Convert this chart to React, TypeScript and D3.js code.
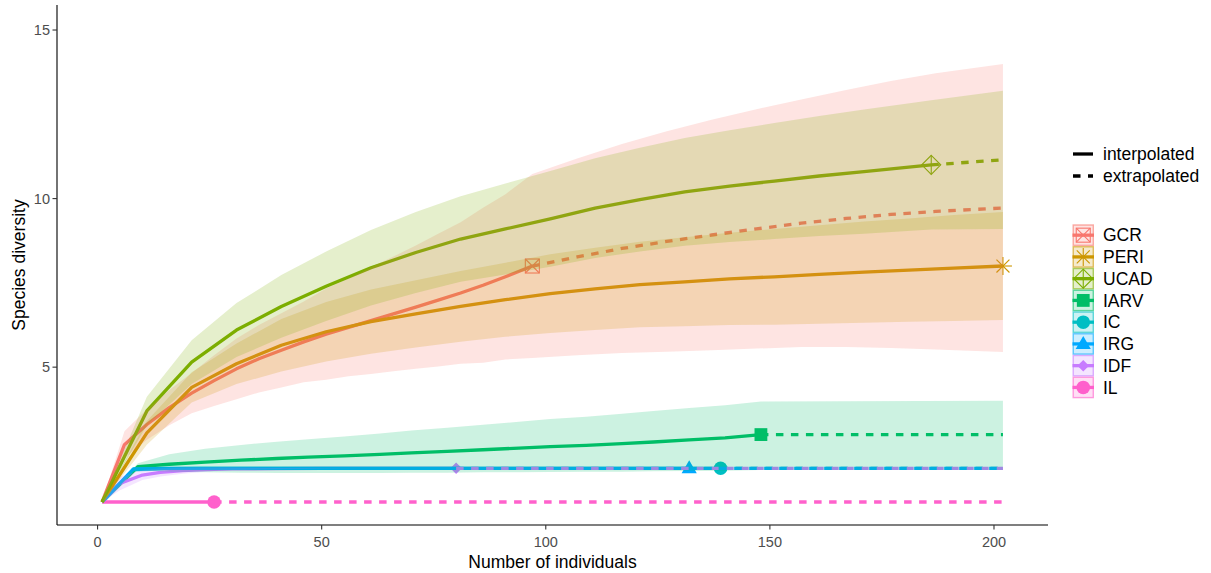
import React from "react";
import * as d3 from "d3";

const W = 1211;
const H = 573;

const groups = ["GCR", "PERI", "UCAD", "IARV", "IC", "IRG", "IDF", "IL"];
const colors = ["#F8766D", "#CD9600", "#7CAE00", "#00BE67", "#00BFC4", "#00A9FF", "#C77CFF", "#FF61CC"];
const shapes = ["squareCross", "asterisk", "diamondPlus", "square", "circle", "triangle", "diamond", "circle"];
const observedN = [97, 202, 186, 148, 139, 132, 80, 26];

// GCR
const gcrX = [1, 6, 11, 16, 21, 26, 31, 36, 41, 46, 51, 56, 61, 66, 71, 76, 81, 86, 91, 97, 107, 117, 127, 137, 147, 157, 167, 177, 187, 202];
const gcrEst = [1, 2.7, 3.3, 3.8, 4.23, 4.6, 4.95, 5.25, 5.5, 5.75, 5.98, 6.18, 6.38, 6.58, 6.78, 6.99, 7.2, 7.43, 7.68, 8.0, 8.27, 8.52, 8.73, 8.92, 9.1, 9.27, 9.41, 9.53, 9.62, 9.72];
const gcrLo = [1, 2.3, 2.85, 3.28, 3.63, 3.85, 4.05, 4.25, 4.4, 4.55, 4.63, 4.73, 4.8, 4.88, 4.95, 5.02, 5.1, 5.13, 5.23, 5.27, 5.35, 5.42, 5.46, 5.5, 5.55, 5.6, 5.6, 5.57, 5.52, 5.45];
const gcrHi = [1, 3.1, 3.75, 4.32, 4.83, 5.35, 5.85, 6.25, 6.6, 6.95, 7.33, 7.63, 7.96, 8.28, 8.61, 8.96, 9.3, 9.73, 10.13, 10.73, 11.19, 11.62, 12.0, 12.34, 12.65, 12.94, 13.22, 13.49, 13.72, 13.99];

// PERI
const periX = [1, 11, 21, 31, 41, 51, 61, 71, 81, 91, 101, 111, 121, 131, 141, 151, 161, 171, 181, 191, 202];
const periEst = [1, 3.05, 4.4, 5.1, 5.65, 6.05, 6.35, 6.58, 6.8, 7.0, 7.18, 7.32, 7.45, 7.53, 7.62, 7.68, 7.75, 7.82, 7.88, 7.94, 8.0];
const periLo = [1, 2.7, 3.95, 4.5, 4.87, 5.17, 5.4, 5.58, 5.75, 5.9, 6.01, 6.1, 6.18, 6.21, 6.25, 6.26, 6.29, 6.32, 6.35, 6.37, 6.4];
const periHi = [1, 3.4, 4.85, 5.7, 6.43, 6.93, 7.3, 7.58, 7.85, 8.1, 8.35, 8.54, 8.72, 8.85, 8.99, 9.1, 9.21, 9.32, 9.41, 9.51, 9.6];

// UCAD
const ucadX = [1, 11, 21, 31, 41, 51, 61, 71, 81, 91, 101, 111, 121, 131, 141, 151, 161, 171, 186, 202];
const ucadEst = [1, 3.7, 5.15, 6.1, 6.8, 7.4, 7.95, 8.4, 8.8, 9.1, 9.4, 9.72, 9.97, 10.2, 10.37, 10.52, 10.67, 10.8, 11.0, 11.15];
const ucadLo = [1, 3.28, 4.5, 5.3, 5.87, 6.37, 6.83, 7.2, 7.53, 7.75, 7.98, 8.24, 8.43, 8.6, 8.71, 8.8, 8.89, 8.96, 9.08, 9.1];
const ucadHi = [1, 4.12, 5.8, 6.9, 7.73, 8.43, 9.07, 9.6, 10.07, 10.45, 10.82, 11.2, 11.51, 11.8, 12.03, 12.24, 12.45, 12.64, 12.92, 13.2];

// IARV
const iarvX = [1, 9, 16, 24, 32, 40, 47, 55, 63, 70, 78, 86, 94, 101, 109, 117, 124, 132, 140, 148, 202];
const iarvEst = [1, 2.05, 2.12, 2.18, 2.24, 2.29, 2.33, 2.37, 2.41, 2.46, 2.5, 2.55, 2.6, 2.64, 2.68, 2.73, 2.78, 2.84, 2.9, 3.0, 3.0];
const iarvLo = [1, 1.95, 1.9, 1.88, 1.87, 1.86, 1.86, 1.86, 1.86, 1.87, 1.87, 1.88, 1.88, 1.89, 1.9, 1.9, 1.91, 1.92, 1.93, 1.95, 1.95];
const iarvHi = [1, 2.15, 2.42, 2.58, 2.69, 2.79, 2.86, 2.94, 3.03, 3.12, 3.2, 3.29, 3.38, 3.46, 3.53, 3.62, 3.7, 3.79, 3.87, 3.98, 4.0];

// IC
const icX = [1, 8, 15, 23, 30, 60, 100, 139, 202];
const icEst = [1, 1.96, 1.99, 2.0, 2.0, 2.0, 2.0, 2.0, 2.0];
const icLo = [1, 1.88, 1.95, 1.98, 2.0, 2.0, 2.0, 2.0, 2.0];
const icHi = [1, 2.04, 2.03, 2.02, 2.0, 2.0, 2.0, 2.0, 2.0];

// IRG
const irgX = [1, 8, 15, 22, 30, 60, 100, 132, 202];
const irgEst = [1, 1.98, 2.0, 2.0, 2.0, 2.0, 2.0, 2.0, 2.0];
const irgLo = [1, 1.92, 1.97, 1.99, 2.0, 2.0, 2.0, 2.0, 2.0];
const irgHi = [1, 2.04, 2.03, 2.01, 2.0, 2.0, 2.0, 2.0, 2.0];

// IDF
const idfX = [1, 5, 10, 14, 19, 24, 30, 40, 50, 60, 80, 202];
const idfEst = [1, 1.55, 1.8, 1.88, 1.93, 1.96, 1.98, 1.99, 2.0, 2.0, 2.0, 2.0];
const idfLo = [1, 1.35, 1.65, 1.76, 1.84, 1.9, 1.94, 1.97, 1.99, 2.0, 2.0, 2.0];
const idfHi = [1, 1.75, 1.95, 2.0, 2.02, 2.02, 2.02, 2.01, 2.0, 2.0, 2.0, 2.0];

// IL
const ilX = [1, 26, 202];
const ilEst = [1, 1, 1];
const ilLo = [1, 1, 1];
const ilHi = [1, 1, 1];

const xTicks = [0, 50, 100, 150, 200];
const yTicks = [5, 10, 15];
const lineTypeLabels = ["interpolated", "extrapolated"];

const seriesX = [gcrX, periX, ucadX, iarvX, icX, irgX, idfX, ilX];
const seriesEst = [gcrEst, periEst, ucadEst, iarvEst, icEst, irgEst, idfEst, ilEst];
const seriesLo = [gcrLo, periLo, ucadLo, iarvLo, icLo, irgLo, idfLo, ilLo];
const seriesHi = [gcrHi, periHi, ucadHi, iarvHi, icHi, irgHi, idfHi, ilHi];

const FONT = "'Liberation Sans', Arial, sans-serif";
const LW = 3.3;
const DASH = "7.5 7.5";

function Marker({ shape, cx, cy, color }: { shape: string; cx: number; cy: number; color: string }) {
  switch (shape) {
    case "circle":
      return <circle cx={cx} cy={cy} r={6.8} fill={color} />;
    case "square":
      return <rect x={cx - 6.4} y={cy - 6.4} width={12.8} height={12.8} fill={color} />;
    case "triangle":
      return <path d={`M${cx},${cy - 8}L${cx - 7.6},${cy + 5}L${cx + 7.6},${cy + 5}Z`} fill={color} />;
    case "diamond":
      return <path d={`M${cx},${cy - 5.8}L${cx + 5.8},${cy}L${cx},${cy + 5.8}L${cx - 5.8},${cy}Z`} fill={color} />;
    case "squareCross": {
      const s = 7;
      return (
        <g stroke={color} strokeWidth={1.1} fill="none">
          <rect x={cx - s} y={cy - s} width={2 * s} height={2 * s} />
          <line x1={cx - s} y1={cy - s} x2={cx + s} y2={cy + s} />
          <line x1={cx - s} y1={cy + s} x2={cx + s} y2={cy - s} />
        </g>
      );
    }
    case "asterisk": {
      const r = 9;
      const d = r * 0.72;
      return (
        <g stroke={color} strokeWidth={1.1} fill="none">
          <line x1={cx} y1={cy - r} x2={cx} y2={cy + r} />
          <line x1={cx - r} y1={cy} x2={cx + r} y2={cy} />
          <line x1={cx - d} y1={cy - d} x2={cx + d} y2={cy + d} />
          <line x1={cx - d} y1={cy + d} x2={cx + d} y2={cy - d} />
        </g>
      );
    }
    case "diamondPlus": {
      const r = 9.5;
      return (
        <g stroke={color} strokeWidth={1.1} fill="none">
          <path d={`M${cx},${cy - r}L${cx + r},${cy}L${cx},${cy + r}L${cx - r},${cy}Z`} />
          <line x1={cx} y1={cy - r} x2={cx} y2={cy + r} />
          <line x1={cx - r} y1={cy} x2={cx + r} y2={cy} />
        </g>
      );
    }
    default:
      return null;
  }
}

export default function App() {
  const x = d3.scaleLinear().domain([-9.05, 212.05]).range([57, 1048]);
  const y = d3.scaleLinear().domain([0.318, 15.742]).range([525, 5]);

  const line = d3
    .line<[number, number]>()
    .x((d) => x(d[0]))
    .y((d) => y(d[1]));
  const area = d3
    .area<[number, number, number]>()
    .x((d) => x(d[0]))
    .y0((d) => y(d[1]))
    .y1((d) => y(d[2]));

  const series = groups.map((g, i) => {
    const xs = seriesX[i];
    const n = observedN[i];
    const pts: [number, number][] = xs.map((v, k) => [v, seriesEst[i][k]]);
    const interp = pts.filter((p) => p[0] <= n);
    const extrap = pts.filter((p) => p[0] >= n);
    const band: [number, number, number][] = xs.map((v, k) => [v, seriesLo[i][k], seriesHi[i][k]]);
    const obsIdx = xs.indexOf(n);
    return { g, i, interp, extrap, band, obs: [n, seriesEst[i][obsIdx]] as [number, number] };
  });

  // plotting order follows alphabetical order of the site names
  const ordered = [...series].sort((a, b) => d3.ascending(a.g, b.g));

  const legendX0 = 1072.5;
  const keyH = 21.75;
  const keyTop = 224.3;

  return (
    <svg
      width={W}
      height={H}
      style={{ position: "absolute", left: 0, top: 0, background: "#fff" }}
      fontFamily={FONT}
    >
      <rect x={0} y={0} width={W} height={H} fill="#fff" />
      {/* points */}
      <g>
        {ordered.map((s) => (
          <Marker key={s.g} shape={shapes[s.i]} cx={x(s.obs[0])} cy={y(s.obs[1])} color={colors[s.i]} />
        ))}
      </g>
      {/* lines: interpolated first, then extrapolated */}
      <g fill="none" strokeWidth={LW} strokeLinejoin="round" strokeLinecap="butt">
        {ordered.map((s) =>
          s.interp.length > 1 ? <path key={s.g + "i"} d={line(s.interp) || ""} stroke={colors[s.i]} /> : null
        )}
        {ordered.map((s) =>
          s.extrap.length > 1 ? (
            <path key={s.g + "e"} d={line(s.extrap) || ""} stroke={colors[s.i]} strokeDasharray={DASH} />
          ) : null
        )}
      </g>
      {/* ribbons */}
      <g>
        {ordered.map((s) => (
          <path key={s.g} d={area(s.band) || ""} fill={colors[s.i]} fillOpacity={0.2} stroke="none" />
        ))}
      </g>

      {/* axes */}
      <line x1={57} y1={525} x2={1048} y2={525} stroke="#000" strokeWidth={1.1} />
      <line x1={57} y1={5} x2={57} y2={525} stroke="#000" strokeWidth={1.1} />
      {xTicks.map((t) => (
        <g key={t}>
          <line x1={x(t)} x2={x(t)} y1={525} y2={529.5} stroke="#333" strokeWidth={1.1} />
          <text x={x(t)} y={547} textAnchor="middle" fontSize={14.5} fill="#4D4D4D">
            {t}
          </text>
        </g>
      ))}
      {yTicks.map((t) => (
        <g key={t}>
          <line x1={52.5} x2={57} y1={y(t)} y2={y(t)} stroke="#333" strokeWidth={1.1} />
          <text x={50} y={y(t)} dy="0.36em" textAnchor="end" fontSize={14.5} fill="#4D4D4D">
            {t}
          </text>
        </g>
      ))}
      <text x={552.5} y={568} textAnchor="middle" fontSize={17.5} fill="#000">
        Number of individuals
      </text>
      <text transform={`translate(25,265) rotate(-90)`} textAnchor="middle" fontSize={17.5} fill="#000">
        Species diversity
      </text>

      {/* linetype legend */}
      {lineTypeLabels.map((lab, k) => {
        const cy = 154 + k * 22;
        return (
          <g key={lab}>
            <line
              x1={1073}
              x2={1093}
              y1={cy}
              y2={cy}
              stroke="#000"
              strokeWidth={LW}
              strokeDasharray={k === 1 ? DASH : undefined}
            />
            <text x={1103} y={cy} dy="0.36em" fontSize={17.5} fill="#000">
              {lab}
            </text>
          </g>
        );
      })}

      {/* group legend */}
      {groups.map((g, i) => {
        const top = keyTop + i * keyH;
        const cy = top + keyH / 2;
        const cx = legendX0 + 10.75;
        return (
          <g key={g}>
            <Marker shape={shapes[i]} cx={cx} cy={cy} color={colors[i]} />
            <line x1={legendX0} x2={legendX0 + 21.5} y1={cy} y2={cy} stroke={colors[i]} strokeWidth={LW} />
            <rect
              x={legendX0 + 0.7}
              y={top + 0.7}
              width={20.1}
              height={keyH - 1.4}
              fill={colors[i]}
              fillOpacity={0.2}
              stroke={colors[i]}
              strokeOpacity={0.6}
              strokeWidth={1.4}
            />
            <text x={1103} y={cy} dy="0.36em" fontSize={17.5} fill="#000">
              {g}
            </text>
          </g>
        );
      })}
    </svg>
  );
}
